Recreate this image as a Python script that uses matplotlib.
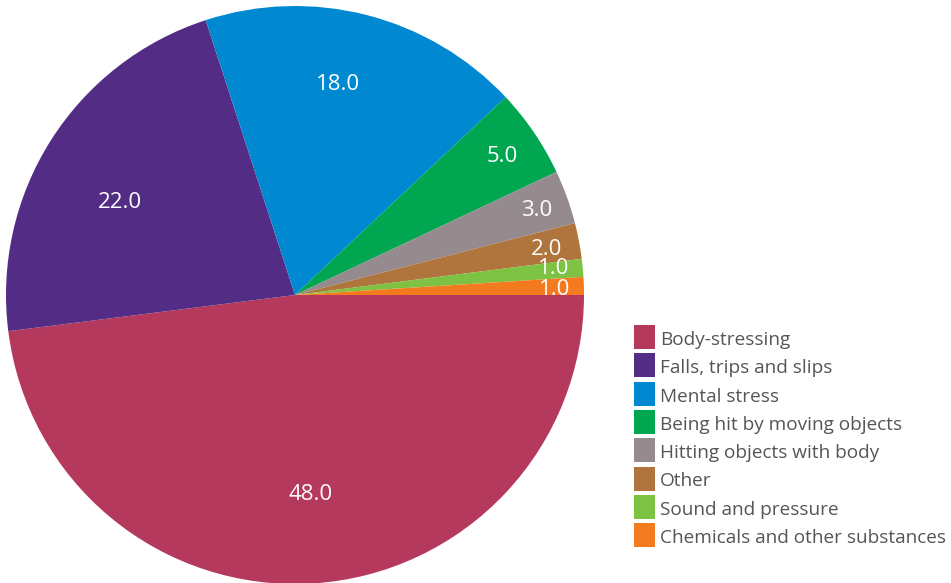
import numpy as np
import matplotlib
matplotlib.use("Agg")
import matplotlib.pyplot as plt
from matplotlib.patches import Rectangle

categories = ["Body-stressing", "Falls, trips and slips", "Mental stress",
              "Being hit by moving objects", "Hitting objects with body",
              "Other", "Sound and pressure", "Chemicals and other substances"]
values = [48.0, 22.0, 18.0, 5.0, 3.0, 2.0, 1.0, 1.0]
colors = ["#B5395C", "#532D85", "#0088D1", "#00A650",
          "#958B8F", "#B0753C", "#7DC243", "#F47A20"]
# where each value label sits: fraction of radius, and angle shift (deg)
label_dist = [0.685, 0.69, 0.75, 0.865, 0.89, 0.885, 0.9, 0.9]
label_shift = [0.8, 4.0, 3.0, 0, 0, 0, 0.9, 0]

plt.rcParams["font.family"] = ["Open Sans", "DejaVu Sans"]

W, H = 951, 583
fig = plt.figure(figsize=(W / 100, H / 100), dpi=100)
ax = fig.add_axes([6 / W, -1 / H, 578 / W, 578 / H])

wedges, _ = ax.pie(values, colors=colors, startangle=0, counterclock=False,
                   radius=1, wedgeprops={"linewidth": 0})
ax.set_xlim(-1, 1)
ax.set_ylim(-1, 1)
ax.set_aspect("equal")

for w, v, d, s in zip(wedges, values, label_dist, label_shift):
    mid = np.deg2rad((w.theta1 + w.theta2) / 2 + s)
    ax.text(d * np.cos(mid), d * np.sin(mid) - 0.008, "%.1f" % v,
            color="white", fontsize=16, ha="center", va="center")

# legend drawn by hand: square swatch + label per row
top, step = 325, 28.3
for i, (cat, col) in enumerate(zip(categories, colors)):
    y = top + i * step
    fig.add_artist(Rectangle((634 / W, 1 - (y + 24) / H), 21 / W, 24 / H,
                             transform=fig.transFigure, facecolor=col,
                             edgecolor="none"))
    fig.text(660 / W, 1 - (y + 15) / H, cat, fontsize=13.7, color="#555555",
             ha="left", va="center")

fig.savefig("out.png", dpi=100)
